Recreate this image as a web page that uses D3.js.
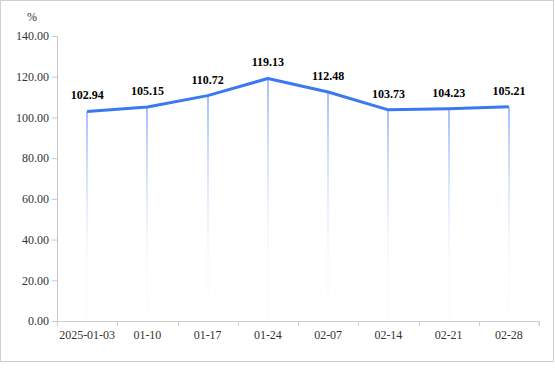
<!DOCTYPE html>
<html>
<head>
<meta charset="utf-8">
<script src="https://cdn.jsdelivr.net/npm/d3@7"></script>
<style>
  html, body { margin: 0; padding: 0; background: #fff; }
  svg { display: block; }
</style>
</head>
<body>
<svg id="chart" width="555" height="371"></svg>
<script>
const categories = ["2025-01-03", "01-10", "01-17", "01-24", "02-07", "02-14", "02-21", "02-28"];
const values = [102.94, 105.15, 110.72, 119.13, 112.48, 103.73, 104.23, 105.21];
const yTicks = [0, 20, 40, 60, 80, 100, 120, 140];
const unitLabel = "%";

const svg = d3.select("#chart");
const margin = { left: 57, top: 36 };
const plotRight = 539, plotBottom = 321;

// border
svg.append("rect")
  .attr("x", 0.5).attr("y", 0.5)
  .attr("width", 553).attr("height", 361)
  .attr("fill", "none").attr("stroke", "#cfcfcf").attr("stroke-width", 1);

const x = d3.scaleBand().domain(categories).range([margin.left, plotRight]).padding(0);
const y = d3.scaleLinear().domain([0, 140]).range([plotBottom, margin.top]);

const defs = svg.append("defs");
const grad = defs.append("linearGradient")
  .attr("id", "dropGrad").attr("x1", 0).attr("y1", 0).attr("x2", 0).attr("y2", 1)
  .attr("gradientUnits", "objectBoundingBox");
grad.append("stop").attr("offset", "0%").attr("stop-color", "#4a82f7").attr("stop-opacity", 1);
grad.append("stop").attr("offset", "30%").attr("stop-color", "#4a82f7").attr("stop-opacity", 0.45);
grad.append("stop").attr("offset", "65%").attr("stop-color", "#4a82f7").attr("stop-opacity", 0.08);
grad.append("stop").attr("offset", "100%").attr("stop-color", "#4a82f7").attr("stop-opacity", 0.02);

// y axis
const yAxis = d3.axisLeft(y).tickValues(yTicks).tickFormat(d3.format(".2f")).tickSize(5).tickPadding(3);
const gy = svg.append("g").attr("transform", `translate(${margin.left},0)`).call(yAxis);
gy.select(".domain").attr("stroke", "#c8c8c8");
gy.selectAll(".tick line").attr("stroke", "#c8c8c8");
gy.selectAll(".tick text")
  .attr("fill", "#333")
  .style("font-family", "'Liberation Serif', 'Times New Roman', serif")
  .style("font-size", "12px");

// x axis
const xAxis = d3.axisBottom(x).tickSize(0).tickPadding(9);
const gx = svg.append("g").attr("transform", `translate(0,${plotBottom})`).call(xAxis);
gx.select(".domain").attr("stroke", "#d0d0d0").attr("d", `M${margin.left},0.5H${plotRight}V5`);
gx.selectAll(".tick text")
  .attr("fill", "#333")
  .style("font-family", "'Liberation Serif', 'Times New Roman', serif")
  .style("font-size", "12px");
const bounds = categories.map(c => x(c)).concat([plotRight]);
gx.selectAll(".btick").data(bounds).enter().append("line")
  .attr("class", "btick")
  .attr("x1", d => Math.round(d) + 0.5).attr("x2", d => Math.round(d) + 0.5)
  .attr("y1", 0).attr("y2", 5)
  .attr("stroke", "#d0d0d0");

// unit label
svg.append("text")
  .attr("x", 32).attr("y", 21)
  .attr("text-anchor", "middle")
  .attr("fill", "#333")
  .style("font-family", "'Liberation Serif', 'Times New Roman', serif")
  .style("font-size", "12px")
  .text(unitLabel);

const cx = c => x(c) + x.bandwidth() / 2;

// drop lines
svg.append("g").selectAll("rect").data(categories).enter().append("rect")
  .attr("x", (c) => Math.round(cx(c)) - 0.5)
  .attr("width", 1)
  .attr("y", (c, i) => y(values[i]))
  .attr("height", (c, i) => plotBottom - y(values[i]))
  .attr("fill", "url(#dropGrad)");

// line
const line = d3.line().x((d, i) => cx(categories[i])).y(d => y(d));
svg.append("path").datum(values)
  .attr("d", line)
  .attr("fill", "none")
  .attr("stroke", "#3b78f4")
  .attr("stroke-width", 3)
  .attr("stroke-linejoin", "round");

// value labels
svg.append("g").selectAll("text").data(values).enter().append("text")
  .attr("x", (d, i) => cx(categories[i]))
  .attr("y", d => y(d) - 12)
  .attr("text-anchor", "middle")
  .attr("fill", "#000")
  .style("font-family", "'Liberation Serif', 'Times New Roman', serif")
  .style("font-size", "12px")
  .style("font-weight", "bold")
  .text(d => d.toFixed(2));
</script>
</body>
</html>
